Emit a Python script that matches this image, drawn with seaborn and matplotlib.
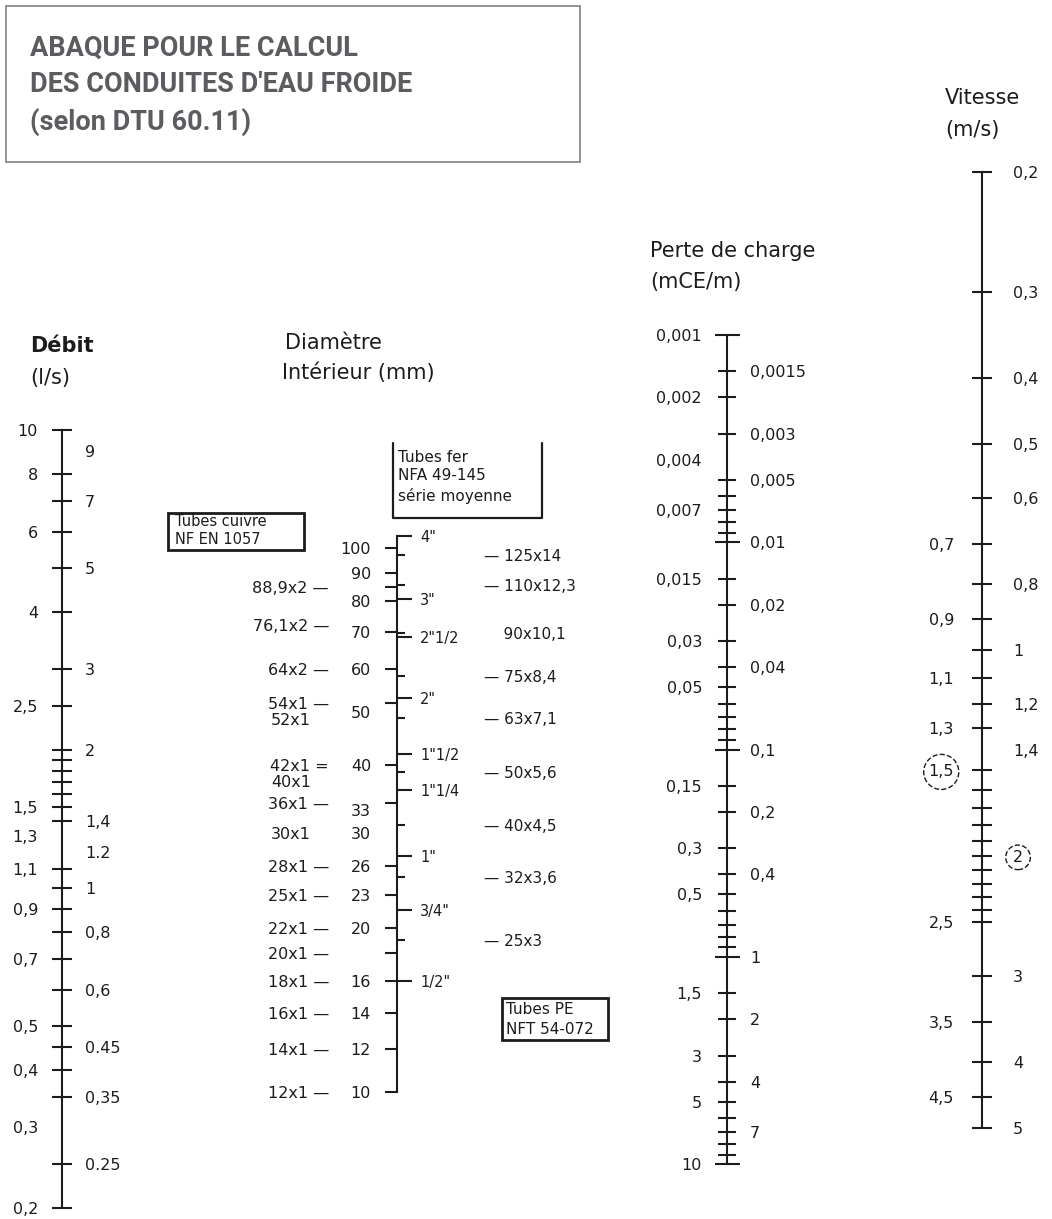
import matplotlib
matplotlib.use('Agg')
import matplotlib.pyplot as plt
import matplotlib.transforms as mtransforms
from matplotlib.patches import Rectangle
from matplotlib.lines import Line2D
from matplotlib.ticker import NullLocator, NullFormatter
import seaborn as sns

W, H = 1052, 1219

# --- Débit (l/s)
debit_left = [10, 8, 6, 4, 2.5, 1.5, 1.3, 1.1, 0.9, 0.7, 0.5, 0.4, 0.3, 0.2]
debit_left_lbl = ['10', '8', '6', '4', '2,5', '1,5', '1,3', '1,1', '0,9', '0,7', '0,5', '0,4', '0,3', '0,2']
debit_right = [9, 7, 5, 3, 2, 1.4, 1.2, 1, 0.8, 0.6, 0.45, 0.35, 0.25]
debit_right_lbl = ['9', '7', '5', '3', '2', '1,4', '1.2', '1', '0,8', '0,6', '0.45', '0,35', '0.25']
debit_ticks = [10, 8, 7, 6, 5, 4, 3, 2.5, 2, 1.9, 1.8, 1.7, 1.6, 1.5, 1.4, 1.1, 1, 0.9,
               0.8, 0.7, 0.6, 0.5, 0.45, 0.4, 0.35, 0.25, 0.2]

# --- Diamètre intérieur (mm)
diam_nums = [100, 90, 80, 70, 60, 50, 40, 33, 30, 26, 23, 20, 16, 14, 12, 10]
diam_nums_lbl = ['100', '90', '80', '70', '60', '50', '40', '33', '30', '26', '23', '20', '16', '14', '12', '10']
diam_left_ticks = [100, 90, 84.9, 80, 70, 60, 52, 40, 34, 26, 23, 20, 18, 16, 14, 12, 10]
cuivre_dash = [84.9, 72.1, 60, 52, 40, 34, 26, 23, 20, 18, 16, 14, 12, 10]
cuivre_dash_lbl = ['88,9x2 —', '76,1x2 —', '64x2 —', '54x1 —', '42x1 =', '36x1 —', '28x1 —',
                   '25x1 —', '22x1 —', '20x1 —', '18x1 —', '16x1 —', '14x1 —', '12x1 —']
cuivre_plain = [48.5, 37.3, 30]
cuivre_plain_lbl = ['52x1', '40x1', '30x1']
fer_vals = [105.3, 80.8, 68.8, 53, 41.8, 35.9, 27.2, 21.6, 16]
fer_lbl = ['4"', '3"', '2"1/2', '2"', '1"1/2', '1"1/4', '1"', '3/4"', '1/2"']
pe_vals = [97, 85.4, 69.8, 58.2, 48.8, 38.8, 31, 24.8, 19]
pe_lbl = ['— 125x14', '— 110x12,3', '    90x10,1', '— 75x8,4', '— 63x7,1', '— 50x5,6',
          '— 40x4,5', '— 32x3,6', '— 25x3']

# --- Perte de charge (mCE/m)
perte_left = [0.001, 0.002, 0.004, 0.007, 0.015, 0.03, 0.05, 0.15, 0.3, 0.5, 1.5, 3, 5, 10]
perte_left_lbl = ['0,001', '0,002', '0,004', '0,007', '0,015', '0,03', '0,05', '0,15', '0,3',
                  '0,5', '1,5', '3', '5', '10']
perte_right = [0.0015, 0.003, 0.005, 0.01, 0.02, 0.04, 0.1, 0.2, 0.4, 1, 2, 4, 7]
perte_right_lbl = ['0,0015', '0,003', '0,005', '0,01', '0,02', '0,04', '0,1', '0,2', '0,4',
                   '1', '2', '4', '7']
perte_major = [0.001, 0.01, 0.1, 1, 10]
perte_minor = [0.0015, 0.002, 0.003, 0.005, 0.006, 0.007, 0.008, 0.009, 0.015, 0.02, 0.03,
               0.04, 0.05, 0.06, 0.07, 0.08, 0.09, 0.15, 0.2, 0.3, 0.4, 0.5, 0.6, 0.7, 0.8,
               0.9, 1.5, 2, 3, 4, 5, 6, 7, 8, 9]

# --- Vitesse (m/s)
vit_right = [0.2, 0.3, 0.4, 0.5, 0.6, 0.8, 1, 1.2, 1.4, 2, 3, 4, 5]
vit_right_lbl = ['0,2', '0,3', '0,4', '0,5', '0,6', '0,8', '1', '1,2', '1,4', '2', '3', '4', '5']
vit_left = [0.7, 0.9, 1.1, 1.3, 1.5, 2.5, 3.5, 4.5]
vit_left_lbl = ['0,7', '0,9', '1,1', '1,3', '1,5', '2,5', '3,5', '4,5']
vit_ticks = [0.2, 0.3, 0.4, 0.5, 0.6, 0.7, 0.8, 0.9, 1, 1.1, 1.2, 1.3, 1.5, 1.6, 1.7, 1.8,
             1.9, 2, 2.1, 2.2, 2.3, 2.4, 2.5, 3, 3.5, 4, 4.5, 5]

sns.set_theme(style='white')
plt.rcParams['font.family'] = ['DejaVu Sans']
INK = '#1c1c1c'
LW = 1.5

fig = plt.figure(figsize=(W / 100, H / 100), dpi=100)

# overlay in pixel coordinates for titles and boxes
ov = fig.add_axes([0, 0, 1, 1])
ov.set_xlim(0, W)
ov.set_ylim(H, 0)
ov.axis('off')


def scale_axes(x, y_top, y_bot, v_top, v_bot):
    ax = fig.add_axes([x / W, 1 - y_bot / H, 0.4 / W, (y_bot - y_top) / H])
    ax.set_yscale('log')
    ax.set_ylim(v_bot, v_top)
    ax.set_xticks([])
    ax.patch.set_visible(False)
    sns.despine(ax=ax, left=False, bottom=True)
    ax.spines['left'].set_color(INK)
    ax.spines['left'].set_linewidth(LW)
    ax.yaxis.set_minor_locator(NullLocator())
    ax.yaxis.set_minor_formatter(NullFormatter())
    ax.tick_params(axis='y', which='both', labelleft=False, labelright=False,
                   left=True, right=False, color=INK, width=LW)
    return ax


def side_axes(ax):
    tw = ax.twinx()
    tw.set_yscale('log')
    tw.set_ylim(ax.get_ylim())
    for s in tw.spines.values():
        s.set_visible(False)
    tw.yaxis.set_minor_locator(NullLocator())
    tw.tick_params(axis='y', which='both', labelleft=False, labelright=False,
                   left=False, right=True, color=INK, width=LW)
    return tw


def labels(ax, vals, texts, dx, ha, size=11.5):
    trans = mtransforms.offset_copy(ax.get_yaxis_transform(), fig=fig, x=dx, y=0, units='dots')
    out = []
    for v, t in zip(vals, texts):
        out.append(ax.text(0, v, t, transform=trans, ha=ha, va='center_baseline',
                           fontsize=size, color=INK))
    return out


# Débit
ax_d = scale_axes(62, 430, 1208, 10, 0.2)
ax_d.set_yticks(debit_ticks)
ax_d.tick_params(axis='y', which='major', direction='inout', length=15)
labels(ax_d, debit_left, debit_left_lbl, -24, 'right')
labels(ax_d, debit_right, debit_right_lbl, 23, 'left')

# Diamètre
ax_m = scale_axes(397, 536, 1092, 105.3, 10)
ax_m.set_yticks(diam_left_ticks)
ax_m.tick_params(axis='y', which='major', direction='out', length=9)
labels(ax_m, diam_nums, diam_nums_lbl, -26, 'right')
labels(ax_m, cuivre_dash, cuivre_dash_lbl, -68, 'right')
labels(ax_m, cuivre_plain, cuivre_plain_lbl, -86, 'right')
tw_fer = side_axes(ax_m)
tw_fer.set_yticks(fer_vals)
tw_fer.tick_params(axis='y', which='major', direction='out', length=11)
labels(ax_m, fer_vals, fer_lbl, 23, 'left', size=10.5)
tw_pe = side_axes(ax_m)
tw_pe.set_yticks(pe_vals)
tw_pe.tick_params(axis='y', which='major', direction='out', length=6)
labels(ax_m, pe_vals, pe_lbl, 87, 'left', size=11)

# Perte de charge
ax_p = scale_axes(727, 335, 1164, 0.001, 10)
ax_p.set_yticks(perte_major)
ax_p.set_yticks(perte_minor, minor=True)
ax_p.tick_params(axis='y', which='major', direction='inout', length=18)
ax_p.tick_params(axis='y', which='minor', direction='inout', length=13)
labels(ax_p, perte_left, perte_left_lbl, -25, 'right')
labels(ax_p, perte_right, perte_right_lbl, 23, 'left')

# Vitesse
ax_v = scale_axes(982, 172, 1128, 0.2, 5)
ax_v.set_yticks(vit_ticks)
ax_v.tick_params(axis='y', which='major', direction='inout', length=15)
vl = labels(ax_v, vit_left, vit_left_lbl, -28, 'right')
vr = labels(ax_v, vit_right, vit_right_lbl, 31, 'left')
circle = dict(boxstyle='circle,pad=0.3', fc='none', ec=INK, ls='--', lw=1.0)
for t in vl:
    if t.get_text() == '1,5':
        t.set_bbox(circle)
for t in vr:
    if t.get_text() == '2':
        t.set_bbox(circle)

# scale titles
tk = dict(fontsize=15, color=INK, va='center', ha='left')
ov.text(30, 346, 'Débit', fontweight='semibold', **tk)
ov.text(30, 378, '(l/s)', **tk)
ov.text(285, 343, 'Diamètre', **tk)
ov.text(282, 373, 'Intérieur (mm)', **tk)
ov.text(650, 251, 'Perte de charge', **tk)
ov.text(650, 282, '(mCE/m)', **tk)
ov.text(945, 98, 'Vitesse', **tk)
ov.text(945, 130, '(m/s)', **tk)

# title box
ov.add_patch(Rectangle((6, 6), 574, 156, fill=False, ec='#8a8a8a', lw=1.3))
title_lines = ['ABAQUE POUR LE CALCUL', "DES CONDUITES D'EAU FROIDE", '(selon DTU 60.11)']
for i, line in enumerate(title_lines):
    ov.text(30, 48 + 37 * i, line, family='Roboto', fontweight='bold', fontsize=19.5,
            color='#5c5c60', va='center', ha='left')

# legend boxes
bk = dict(fontsize=11, color=INK, va='center', ha='left')
ov.add_patch(Rectangle((168, 513), 136, 37, fill=False, ec=INK, lw=2))
ov.text(175, 522, 'Tubes cuivre', fontsize=10.5, color=INK, va='center', ha='left')
ov.text(175, 540, 'NF EN 1057', fontsize=10.5, color=INK, va='center', ha='left')

ov.add_line(Line2D([393, 393, 542, 542], [443, 518, 518, 443], color=INK, lw=1.6))
ov.text(398, 457, 'Tubes fer', **bk)
ov.text(398, 476, 'NFA 49-145', **bk)
ov.text(398, 496, 'série moyenne', **bk)

ov.add_patch(Rectangle((502, 998), 106, 42, fill=False, ec=INK, lw=2))
ov.text(506, 1010, 'Tubes PE', **bk)
ov.text(506, 1029, 'NFT 54-072', **bk)

fig.savefig('out.png', dpi=100, facecolor='white')
